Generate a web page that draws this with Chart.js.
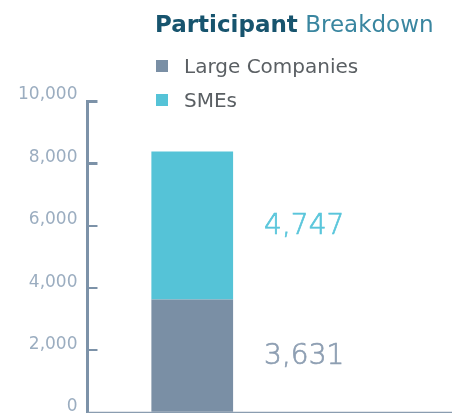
<!DOCTYPE html>
<html>
<head>
<meta charset="utf-8">
<script src="https://cdn.jsdelivr.net/npm/chart.js@4.4.1/dist/chart.umd.min.js"></script>
<style>
    html, body { margin: 0; padding: 0; background: #fff; overflow: hidden; width: 452px; height: 413px; }
    #wrap { position: absolute; left: 0; top: 0; width: 452px; height: 443px; }
    #title { position: absolute; left: 155px; top: 11px; font-family: 'DejaVu Sans', sans-serif; font-size: 23px; color: #3a86a0; white-space: nowrap; }
    #title b { color: #17546e; font-weight: 700; }
    #legend { position: absolute; left: 156px; top: 49px; font-family: 'DejaVu Sans', sans-serif; font-size: 20px; color: #5a5f63; }
    .item { display: flex; align-items: center; height: 34px; white-space: nowrap; }
    .swatch { width: 12px; height: 12px; margin-right: 16px; }
</style>
</head>
<body>
<div id="wrap"><canvas id="participant-chart"></canvas></div>
<div id="title"><b>Participant</b> Breakdown</div>
<div id="legend"></div>
<script>
const categories = ['Participants'];
const seriesNames = ['Large Companies', 'SMEs'];
const largeCompanies = [3631];
const smes = [4747];
const yTickValues = [0, 2000, 4000, 6000, 8000, 10000];

// Value labels next to each stacked segment
const valueLabels = {
    id: 'valueLabels',
    afterDatasetsDraw(chart) {
        const ctx = chart.ctx;
        ctx.save();
        ctx.font = '200 28px "DejaVu Sans"';
        ctx.textAlign = 'left';
        ctx.textBaseline = 'middle';
        ctx.lineWidth = 0.7;
        chart.data.datasets.forEach((ds, i) => {
            const bar = chart.getDatasetMeta(i).data[0];
            const text = ds.data[0].toLocaleString('en-US');
            const x = bar.x + bar.width / 2 + 31;
            const y = (bar.y + bar.base) / 2 + 1;
            ctx.fillStyle = ds.labelColor;
            ctx.strokeStyle = ds.labelColor;
            ctx.fillText(text, x, y);
            ctx.strokeText(text, x, y);
        });
        ctx.restore();
    }
};

// Baseline running from the y axis to the right edge
const baseline = {
    id: 'baseline',
    afterDatasetsDraw(chart) {
        const { ctx, chartArea } = chart;
        ctx.save();
        ctx.strokeStyle = '#8a9db0';
        ctx.lineWidth = 2;
        ctx.beginPath();
        ctx.moveTo(chartArea.left, chartArea.bottom);
        ctx.lineTo(chart.width, chartArea.bottom);
        ctx.stroke();
        ctx.restore();
    }
};

const ctx = document.getElementById('participant-chart').getContext('2d');
const chart = new Chart(ctx, {
    type: 'bar',
    data: {
        labels: categories,
        datasets: [{
            label: seriesNames[0],
            data: largeCompanies,
            backgroundColor: '#7a8fa5',
            labelColor: '#8d9eb2',
            categoryPercentage: 1,
            barPercentage: 0.39
        }, {
            label: seriesNames[1],
            data: smes,
            backgroundColor: '#55c3d7',
            labelColor: '#5ac6db',
            categoryPercentage: 1,
            barPercentage: 0.39
        }]
    },
    options: {
        responsive: true,
        maintainAspectRatio: false,
        animation: false,
        layout: { padding: { top: 101, left: -2, right: 155, bottom: 0 } },
        plugins: {
            legend: { display: false },
            tooltip: { enabled: false }
        },
        scales: {
            x: { stacked: true, display: false },
            y: {
                stacked: true,
                min: 0,
                max: 10000,
                afterBuildTicks: scale => { scale.ticks = yTickValues.map(v => ({ value: v })); },
                border: { color: '#7c92a8', width: 3 },
                grid: {
                    drawOnChartArea: false,
                    drawTicks: true,
                    tickLength: -10,
                    color: '#7c92a8',
                    lineWidth: c => (c.tick && c.tick.value >= 8000 ? 3 : 2)
                },
                ticks: {
                    padding: 20,
                    labelOffset: -6,
                    color: '#9badc0',
                    font: { family: 'DejaVu Sans', size: 17, weight: '400' },
                    callback: v => v.toLocaleString('en-US')
                }
            }
        }
    },
    plugins: [valueLabels, baseline]
});

// Legend built from the datasets
const legendDiv = document.getElementById('legend');
chart.data.datasets.forEach(ds => {
    const item = document.createElement('div');
    item.className = 'item';
    item.innerHTML = `<span class="swatch" style="background:${ds.backgroundColor}"></span>${ds.label}`;
    legendDiv.appendChild(item);
});
</script>
</body>
</html>
